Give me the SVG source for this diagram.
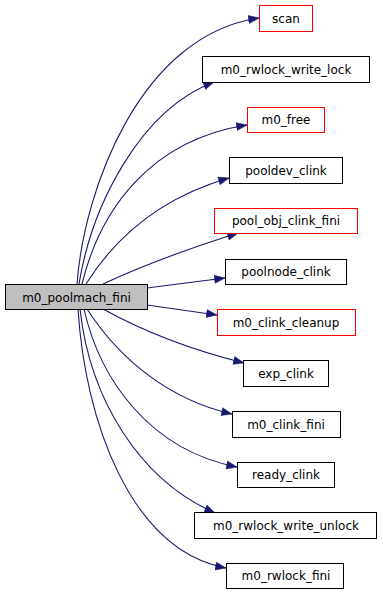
<svg xmlns="http://www.w3.org/2000/svg" width="383" height="595" viewBox="0 0 383 595">
<style>
  .box { fill: #ffffff; stroke: #000000; stroke-width: 1; }
  .ext { fill: #ffffff; stroke: #ff0000; stroke-width: 1; }
  .main { fill: #bfbfbf; stroke: #000000; stroke-width: 1; }
  text { font-family: "DejaVu Sans", "Liberation Sans", sans-serif; font-size: 12px; fill: #000000; text-anchor: middle; }
  .edge { fill: none; stroke: #191970; stroke-width: 1.1; marker-end: url(#arrow); }
</style>
<defs>
  <marker id="arrow" markerUnits="userSpaceOnUse" markerWidth="12" markerHeight="10" refX="11" refY="4.5" orient="auto">
    <path d="M0.5,0.5 L11,4.5 L0.5,8.5 z" fill="#191970" stroke="#191970" stroke-width="0.5"/>
  </marker>
</defs>

<g id="edges">
  <path class="edge" d="M77,284 C84,190 140,35 259,18"/>
  <path class="edge" d="M79,284 C92,205 140,110 214,82"/>
  <path class="edge" d="M82,284 C100,210 150,140 247,125"/>
  <path class="edge" d="M86,284 C120,230 170,195 229,178"/>
  <path class="edge" d="M103,284 C150,262 200,245 238,233"/>
  <path class="edge" d="M147,288 L225,278"/>
  <path class="edge" d="M147,305 L217,315"/>
  <path class="edge" d="M103,309 C150,335 200,352 244,363"/>
  <path class="edge" d="M87,309 C120,360 170,400 232,414"/>
  <path class="edge" d="M84,309 C100,380 150,450 237,467"/>
  <path class="edge" d="M80,309 C90,400 140,480 215,513"/>
  <path class="edge" d="M78,309 C85,420 130,550 226,568"/>
</g>

<g id="m0_poolmach_fini">
  <rect class="main" x="5.5" y="284.5" width="142" height="25"/>
  <text x="76.5" y="301.5">m0_poolmach_fini</text>
</g>
<g id="scan">
  <rect class="ext" x="259.5" y="5.5" width="53" height="26"/>
  <text x="286" y="22.5">scan</text>
</g>
<g id="m0_rwlock_write_lock">
  <rect class="box" x="202.5" y="56.5" width="167" height="26"/>
  <text x="286" y="73.5">m0_rwlock_write_lock</text>
</g>
<g id="m0_free">
  <rect class="ext" x="247.5" y="107.5" width="77" height="25"/>
  <text x="286" y="124">m0_free</text>
</g>
<g id="pooldev_clink">
  <rect class="box" x="229.5" y="157.5" width="113" height="26"/>
  <text x="286" y="174.5">pooldev_clink</text>
</g>
<g id="pool_obj_clink_fini">
  <rect class="ext" x="214.5" y="208.5" width="143" height="25"/>
  <text x="286" y="225">pool_obj_clink_fini</text>
</g>
<g id="poolnode_clink">
  <rect class="box" x="225.5" y="259.5" width="121" height="25"/>
  <text x="286" y="276">poolnode_clink</text>
</g>
<g id="m0_clink_cleanup">
  <rect class="ext" x="217.5" y="309.5" width="138" height="26"/>
  <text x="286" y="326.5">m0_clink_cleanup</text>
</g>
<g id="exp_clink">
  <rect class="box" x="243.5" y="360.5" width="85" height="26"/>
  <text x="286" y="377.5">exp_clink</text>
</g>
<g id="m0_clink_fini">
  <rect class="box" x="232.5" y="411.5" width="108" height="26"/>
  <text x="286" y="428.5">m0_clink_fini</text>
</g>
<g id="ready_clink">
  <rect class="box" x="237.5" y="462.5" width="97" height="25"/>
  <text x="286" y="479">ready_clink</text>
</g>
<g id="m0_rwlock_write_unlock">
  <rect class="box" x="194.5" y="512.5" width="182" height="26"/>
  <text x="286" y="529.5">m0_rwlock_write_unlock</text>
</g>
<g id="m0_rwlock_fini">
  <rect class="box" x="226.5" y="563.5" width="117" height="25"/>
  <text x="286" y="580">m0_rwlock_fini</text>
</g>
</svg>
